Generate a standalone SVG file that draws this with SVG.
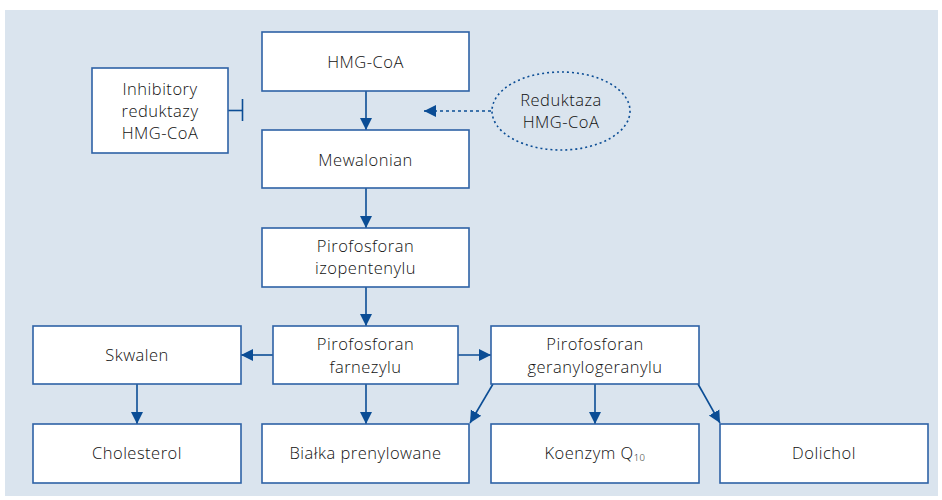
<svg xmlns="http://www.w3.org/2000/svg" width="942" height="500" viewBox="0 0 942 500">
<defs>
<style>
.box{fill:#fff;stroke:#2e62a6;stroke-width:1.6}
.t{font-family:"Open Sans","Noto Sans","Liberation Sans",sans-serif;font-size:16.5px;font-weight:350;letter-spacing:0.5px;fill:#111;text-anchor:middle}
.c{stroke:#0b4d95;stroke-width:1.6;fill:none}
.d{stroke:#0b4d95;stroke-width:1.6;fill:none;stroke-dasharray:3 3}
</style>
<marker id="ahb" viewBox="0 0 10 10" refX="10" refY="5" markerWidth="12" markerHeight="14" markerUnits="userSpaceOnUse" orient="auto">
<path d="M0,0 L10,5 L0,10 Z" fill="#0b4d95"/>
</marker>
</defs>
<rect x="5" y="10" width="933" height="486" fill="#dae4ee"/>
<g id="connectors">
<line class="c" x1="366" y1="91" x2="366" y2="130" marker-end="url(#ahb)"/>
<line class="c" x1="228" y1="110.5" x2="242" y2="110.5"/>
<line class="c" x1="242.5" y1="99" x2="242.5" y2="121" stroke-width="2.4"/>
<line class="d" x1="491" y1="111" x2="434" y2="111"/>
<line class="c" x1="436" y1="111" x2="424" y2="111" marker-end="url(#ahb)"/>
<line class="c" x1="366" y1="188" x2="366" y2="228" marker-end="url(#ahb)"/>
<line class="c" x1="366" y1="287" x2="366" y2="326" marker-end="url(#ahb)"/>
<line class="c" x1="273" y1="355" x2="241" y2="355" marker-end="url(#ahb)"/>
<line class="c" x1="458" y1="355" x2="491" y2="355" marker-end="url(#ahb)"/>
<line class="c" x1="137" y1="384" x2="137" y2="424" marker-end="url(#ahb)"/>
<line class="c" x1="366" y1="384" x2="366" y2="424" marker-end="url(#ahb)"/>
<line class="c" x1="595" y1="384" x2="595" y2="424" marker-end="url(#ahb)"/>
<line class="c" x1="493" y1="384" x2="470" y2="423" marker-end="url(#ahb)"/>
<line class="c" x1="698" y1="384" x2="720" y2="423" marker-end="url(#ahb)"/>
</g>
<g id="hmgcoa"><rect class="box" x="262" y="32" width="207" height="59"/><text class="t" x="365.5" y="67.5">HMG-CoA</text></g>
<g id="inhibitory"><rect class="box" x="92" y="68" width="136" height="85"/><text class="t" x="160" y="95">Inhibitory</text><text class="t" x="160" y="117">reduktazy</text><text class="t" x="160" y="139">HMG-CoA</text></g>
<g id="reduktaza"><ellipse cx="561" cy="111" rx="69" ry="39" fill="none" stroke="#0b4d95" stroke-width="1.6" stroke-dasharray="2 3"/><text class="t" x="561" y="106">Reduktaza</text><text class="t" x="561" y="128">HMG-CoA</text></g>
<g id="mewalonian"><rect class="box" x="262" y="130" width="207" height="58"/><text class="t" x="365.5" y="166">Mewalonian</text></g>
<g id="izopentenylu"><rect class="box" x="262" y="228" width="207" height="59"/><text class="t" x="365.5" y="252">Pirofosforan</text><text class="t" x="365.5" y="274">izopentenylu</text></g>
<g id="skwalen"><rect class="box" x="33" y="326" width="208" height="58"/><text class="t" x="137" y="361">Skwalen</text></g>
<g id="farnezylu"><rect class="box" x="273" y="326" width="185" height="58"/><text class="t" x="365.5" y="350">Pirofosforan</text><text class="t" x="365.5" y="372.5">farnezylu</text></g>
<g id="geranylogeranylu"><rect class="box" x="491" y="326" width="208" height="58"/><text class="t" x="595" y="350">Pirofosforan</text><text class="t" x="595" y="372.5">geranylogeranylu</text></g>
<g id="cholesterol"><rect class="box" x="33" y="424" width="208" height="59"/><text class="t" x="137" y="459">Cholesterol</text></g>
<g id="bialka"><rect class="box" x="262" y="424" width="207" height="59"/><text class="t" x="365.5" y="459">Białka prenylowane</text></g>
<g id="koenzym"><rect class="box" x="491" y="424" width="208" height="59"/><text class="t" x="595" y="459">Koenzym Q<tspan font-size="9.5" dy="2">10</tspan></text></g>
<g id="dolichol"><rect class="box" x="720" y="424" width="208" height="59"/><text class="t" x="824" y="459">Dolichol</text></g>
</svg>
